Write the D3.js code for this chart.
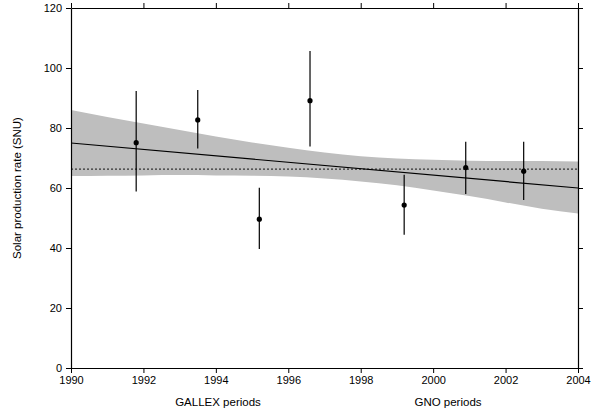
<!DOCTYPE html>
<html>
<head>
<meta charset="utf-8">
<script src="https://cdn.jsdelivr.net/npm/d3@7"></script>
<style>
  body { margin: 0; background: #fff; }
  svg { display: block; font-family: "Liberation Sans", Arial, sans-serif; }
</style>
</head>
<body>
<svg id="chart"></svg>
<script>
// measured periods (year, rate, error bar)
var years = [1991.8, 1993.5, 1995.2, 1996.6, 1999.2, 2000.9, 2002.5]
var rates = [75.1, 82.7, 49.6, 89.1, 54.3, 66.8, 65.6]
var errLow = [58.8, 73.2, 39.7, 73.8, 44.4, 58.0, 56.0]
var errHigh = [92.3, 92.7, 60.1, 105.7, 64.4, 75.4, 75.4]

// fitted trend and its confidence band
var bandYears = [1990, 1991, 1992, 1993, 1994, 1995, 1996, 1997, 1998, 1999, 2000, 2001, 2002, 2003, 2004]
var bandUpper = [86.0, 83.7, 81.5, 79.3, 77.2, 75.2, 73.4, 71.8, 70.6, 69.8, 69.4, 69.1, 69.0, 69.0, 68.8]
var bandLower = [64.0, 64.1, 64.2, 64.3, 64.2, 64.1, 63.8, 63.2, 62.2, 60.9, 59.2, 57.3, 55.2, 53.1, 51.5]
var fitYears = [1990, 2004]
var fitValues = [75.0, 60.0]
var meanValue = 66.3

var xTicks = [1990, 1992, 1994, 1996, 1998, 2000, 2002, 2004]
var yTicks = [0, 20, 40, 60, 80, 100, 120]

var width = 602, height = 410
var margin = ({top: 8, right: 24, bottom: 42, left: 71})

var x = d3.scaleLinear()
  .domain([1990, 2004])
  .range([margin.left, width - margin.right])

var y = d3.scaleLinear()
  .domain([0, 120])
  .range([height - margin.bottom, margin.top])

const svg = d3.select("#chart")
  .attr("width", width)
  .attr("height", height)

var band = bandYears.map((d, i) => ({year: d, lo: bandLower[i], hi: bandUpper[i]}))

svg.append("path")
  .datum(band)
  .attr("fill", "#bebebe")
  .attr("d", d3.area()
    .curve(d3.curveMonotoneX)
    .x(d => x(d.year))
    .y0(d => y(d.lo))
    .y1(d => y(d.hi)))

// mean (dotted)
svg.append("line")
  .attr("x1", x(1990)).attr("x2", x(2004))
  .attr("y1", y(meanValue)).attr("y2", y(meanValue))
  .attr("stroke", "#333")
  .attr("stroke-width", 1.3)
  .attr("stroke-dasharray", "2,2")

// linear fit
svg.append("path")
  .datum(fitYears.map((d, i) => [d, fitValues[i]]))
  .attr("fill", "none")
  .attr("stroke", "#000")
  .attr("stroke-width", 1.2)
  .attr("d", d3.line().x(d => x(d[0])).y(d => y(d[1])))

var pts = years.map((d, i) => ({year: d, v: rates[i], lo: errLow[i], hi: errHigh[i]}))

svg.append("g")
  .attr("stroke", "#000")
  .attr("stroke-width", 1.2)
  .selectAll("line")
  .data(pts)
  .join("line")
    .attr("x1", d => x(d.year)).attr("x2", d => x(d.year))
    .attr("y1", d => y(d.lo)).attr("y2", d => y(d.hi))

svg.append("g")
  .selectAll("circle")
  .data(pts)
  .join("circle")
    .attr("cx", d => x(d.year))
    .attr("cy", d => y(d.v))
    .attr("r", 2.6)
    .attr("fill", "#000")

// axes
var styleAxis = g => {
  g.select(".domain").attr("stroke", "#000").attr("stroke-width", 1.2)
  g.selectAll(".tick line").attr("stroke", "#000")
  g.selectAll("text").attr("fill", "#000").style("font-size", "11px")
}

svg.append("g")
  .attr("transform", `translate(0,${height - margin.bottom})`)
  .call(d3.axisBottom(x).tickValues(xTicks).tickFormat(d3.format("d")).tickSize(5).tickSizeOuter(0).tickPadding(3))
  .call(styleAxis)
  .call(g => g.attr("font-family", null))

svg.append("g")
  .attr("transform", `translate(0,${margin.top})`)
  .call(d3.axisTop(x).tickValues(xTicks).tickFormat("").tickSize(5).tickSizeOuter(0))
  .call(styleAxis)

svg.append("g")
  .attr("transform", `translate(${margin.left},0)`)
  .call(d3.axisLeft(y).tickValues(yTicks).tickSize(5).tickSizeOuter(0).tickPadding(4))
  .call(styleAxis)
  .call(g => g.attr("font-family", null))

svg.append("g")
  .attr("transform", `translate(${width - margin.right},0)`)
  .call(d3.axisRight(y).tickValues(yTicks).tickFormat("").tickSize(5).tickSizeOuter(0))
  .call(styleAxis)

// titles
svg.append("text")
  .attr("transform", `translate(21,${y(60)}) rotate(-90)`)
  .attr("text-anchor", "middle")
  .style("font-size", "11.5px")
  .text("Solar production rate (SNU)")

svg.append("text")
  .attr("x", 218).attr("y", 406)
  .attr("text-anchor", "middle")
  .style("font-size", "11.5px")
  .text("GALLEX periods")

svg.append("text")
  .attr("x", 448).attr("y", 406)
  .attr("text-anchor", "middle")
  .style("font-size", "11.5px")
  .text("GNO periods")
</script>
</body>
</html>
